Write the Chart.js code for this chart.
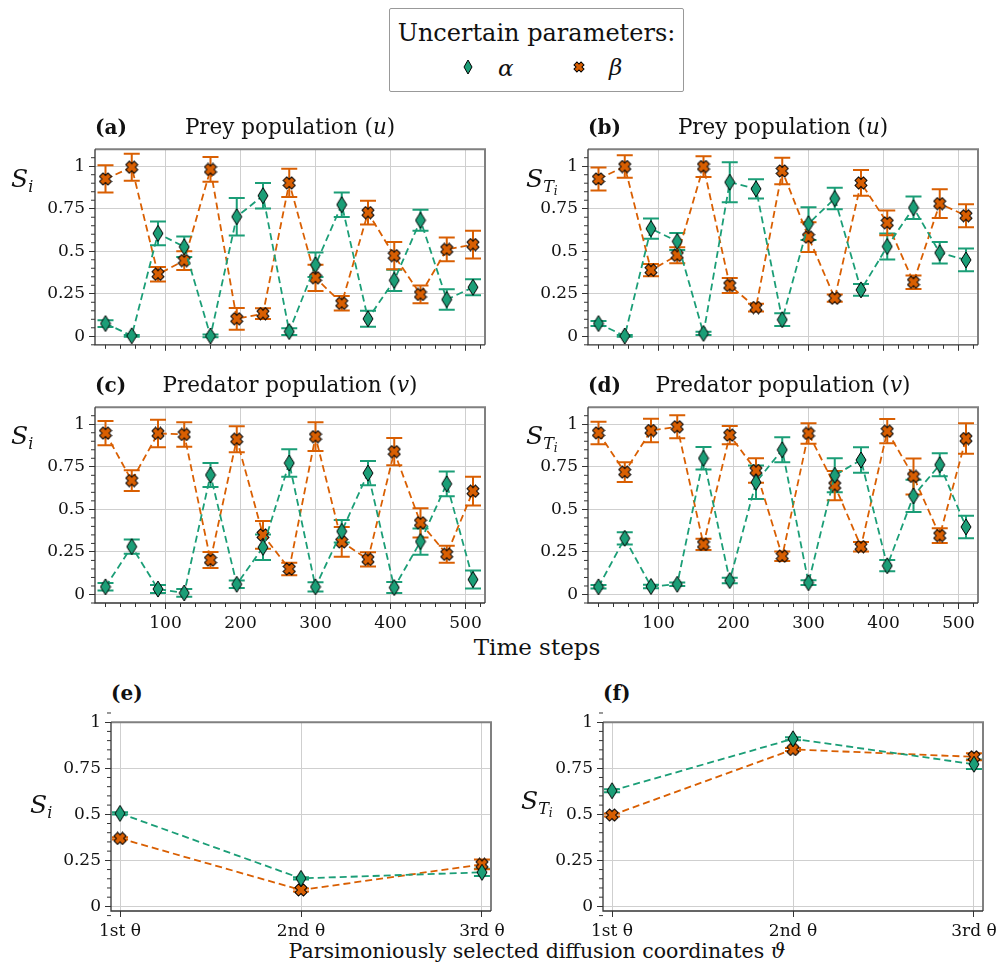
<!DOCTYPE html>
<html>
<head>
<meta charset="utf-8">
<script src="https://cdn.jsdelivr.net/npm/chart.js@4.4.1/dist/chart.umd.min.js"></script>
<style>
    body { margin: 0; background: #fff; }
    #fig { position: relative; width: 1004px; height: 963px; font-family: 'DejaVu Serif', serif; color: #111; overflow: hidden; }
    .panel { position: absolute; }
    .txt { position: absolute; white-space: nowrap; line-height: 1; }
    .tag { font-weight: bold; font-size: 20px; }
    .ttl { font-size: 21.5px; text-align: center; }
    .ylab { font-size: 25px; }
    .ylab sub { font-size: 16px; vertical-align: -5px; }
    .ylab sub sub { font-size: 12px; vertical-align: -3px; }
    #legend { position: absolute; left: 389px; top: 8px; width: 293px; height: 82px; border: 1.5px solid #999; border-radius: 2px; }
</style>
</head>
<body>
<div id="fig">
    <div id="legend">
        <div class="txt" style="left:0;width:293px;top:12px;font-size:24px;text-align:center;">Uncertain parameters:</div>
        <canvas id="legA" width="12" height="18" style="position:absolute;left:72px;top:49px;"></canvas>
        <div class="txt" style="left:108px;top:48px;font-size:23px;font-style:italic;">α</div>
        <canvas id="legB" width="14" height="14" style="position:absolute;left:182px;top:51px;"></canvas>
        <div class="txt" style="left:219px;top:47px;font-size:23px;font-style:italic;">β</div>
    </div>

    <div class="txt" style="left:0;width:1074px;top:636px;font-size:23px;text-align:center;">Time steps</div>
    <div class="txt" style="left:0;width:1074px;top:941px;font-size:20.5px;text-align:center;">Parsimoniously selected diffusion coordinates <i>ϑ</i></div>
</div>

<script>
// --- DATA ---
const timeSteps = [20, 55, 90, 125, 160, 195, 230, 265, 300, 335, 370, 405, 440, 475, 510];
const timeTicks = [100, 200, 300, 400, 500];
const sensTicks = [0, 0.25, 0.5, 0.75, 1];
const coordIdx = [0, 1, 2];
const coordLabels = ['1st θ', '2nd θ', '3rd θ'];

// (a) first-order, prey
const alphaSiPrey    = [0.075, 0.003, 0.605, 0.526, 0.002, 0.703, 0.827, 0.028, 0.42, 0.774, 0.103, 0.329, 0.682, 0.216, 0.288];
const alphaSiPreyErr = [0.02, 0.005, 0.07, 0.06, 0.008, 0.11, 0.075, 0.02, 0.072, 0.072, 0.047, 0.062, 0.062, 0.06, 0.047];
const betaSiPrey     = [0.925, 0.994, 0.365, 0.445, 0.981, 0.103, 0.133, 0.902, 0.344, 0.194, 0.727, 0.474, 0.246, 0.511, 0.539];
const betaSiPreyErr  = [0.08, 0.079, 0.043, 0.055, 0.073, 0.064, 0.032, 0.083, 0.077, 0.043, 0.07, 0.08, 0.052, 0.07, 0.082];

// (b) total-order, prey
const alphaStPrey    = [0.075, 0.002, 0.633, 0.558, 0.017, 0.906, 0.867, 0.098, 0.662, 0.81, 0.273, 0.528, 0.756, 0.491, 0.449];
const alphaStPreyErr = [0.015, 0.005, 0.06, 0.05, 0.01, 0.118, 0.057, 0.038, 0.096, 0.063, 0.035, 0.077, 0.066, 0.063, 0.067];
const betaStPrey     = [0.925, 0.998, 0.389, 0.476, 0.998, 0.299, 0.169, 0.972, 0.583, 0.224, 0.902, 0.667, 0.318, 0.78, 0.709];
const betaStPreyErr  = [0.068, 0.066, 0.036, 0.047, 0.061, 0.044, 0.023, 0.078, 0.088, 0.021, 0.076, 0.073, 0.04, 0.085, 0.068];

// (c) first-order, predator
const alphaSiPred    = [0.045, 0.281, 0.032, 0.009, 0.702, 0.06, 0.277, 0.772, 0.045, 0.371, 0.713, 0.041, 0.311, 0.65, 0.088];
const alphaSiPredErr = [0.022, 0.042, 0.023, 0.023, 0.07, 0.022, 0.075, 0.081, 0.027, 0.066, 0.071, 0.032, 0.077, 0.073, 0.053];
const betaSiPred     = [0.948, 0.669, 0.946, 0.94, 0.202, 0.912, 0.35, 0.15, 0.927, 0.309, 0.206, 0.839, 0.421, 0.236, 0.607];
const betaSiPredErr  = [0.071, 0.061, 0.081, 0.072, 0.047, 0.076, 0.082, 0.037, 0.084, 0.087, 0.042, 0.08, 0.086, 0.05, 0.085];

// (d) total-order, predator
const alphaStPred    = [0.045, 0.33, 0.047, 0.06, 0.8, 0.082, 0.659, 0.85, 0.069, 0.7, 0.79, 0.169, 0.579, 0.762, 0.397];
const alphaStPredErr = [0.01, 0.036, 0.01, 0.01, 0.066, 0.016, 0.098, 0.073, 0.014, 0.1, 0.075, 0.033, 0.095, 0.067, 0.066];
const betaStPred     = [0.949, 0.719, 0.963, 0.985, 0.294, 0.936, 0.728, 0.225, 0.946, 0.64, 0.281, 0.959, 0.693, 0.346, 0.916];
const betaStPredErr  = [0.066, 0.058, 0.069, 0.067, 0.033, 0.053, 0.072, 0.028, 0.06, 0.086, 0.028, 0.071, 0.106, 0.043, 0.09];

// (e) first-order, diffusion coordinates
const alphaSiCoord    = [0.505, 0.152, 0.185];
const alphaSiCoordErr = [0.006, 0.006, 0.02];
const betaSiCoord     = [0.369, 0.089, 0.228];
const betaSiCoordErr  = [0.006, 0.008, 0.027];

// (f) total-order, diffusion coordinates
const alphaStCoord    = [0.628, 0.91, 0.772];
const alphaStCoordErr = [0.008, 0.008, 0.026];
const betaStCoord     = [0.496, 0.852, 0.812];
const betaStCoordErr  = [0.008, 0.008, 0.019];

const GREEN = '#1b9e77';
const ORANGE = '#d95f02';

Chart.defaults.font.family = "'DejaVu Serif', serif";
Chart.defaults.font.size = 17;
Chart.defaults.color = '#111';

// --- MARKERS (matplotlib 'd' and 'X') ---
function diamondImg(w, h) {
    const c = document.createElement('canvas');
    c.width = w + 2; c.height = h + 2;
    const g = c.getContext('2d');
    g.beginPath();
    g.moveTo(c.width / 2, 1);
    g.lineTo(c.width - 1, c.height / 2);
    g.lineTo(c.width / 2, c.height - 1);
    g.lineTo(1, c.height / 2);
    g.closePath();
    g.fillStyle = GREEN; g.fill();
    g.strokeStyle = '#000'; g.lineWidth = 1; g.stroke();
    return c;
}

function crossImg(s) {
    const c = document.createElement('canvas');
    c.width = s + 2; c.height = s + 2;
    const g = c.getContext('2d');
    const r = (s / Math.SQRT2) / 1.42, t = r * 0.42;
    const pts = [[t, r], [t, t], [r, t], [r, -t], [t, -t], [t, -r], [-t, -r], [-t, -t], [-r, -t], [-r, t], [-t, t], [-t, r]];
    g.translate(c.width / 2, c.height / 2);
    g.rotate(Math.PI / 4);
    g.beginPath();
    pts.forEach((p, i) => i ? g.lineTo(p[0], p[1]) : g.moveTo(p[0], p[1]));
    g.closePath();
    g.fillStyle = ORANGE; g.fill();
    g.strokeStyle = '#000'; g.lineWidth = 1; g.stroke();
    return c;
}

const diamond = diamondImg(10, 16);
const cross = crossImg(12);

// legend markers
document.getElementById('legA').getContext('2d').drawImage(diamondImg(8, 14), 1, 1);
document.getElementById('legB').getContext('2d').drawImage(crossImg(10), 1, 1);

// --- PLUGINS ---
const errorBars = {
    id: 'errorBars',
    beforeDatasetsDraw(chart) {
        const ctx = chart.ctx;
        const yScale = chart.scales.y;
        chart.data.datasets.forEach((ds, di) => {
            const meta = chart.getDatasetMeta(di);
            ctx.save();
            ctx.strokeStyle = ds.borderColor;
            ctx.lineWidth = 2;
            meta.data.forEach((pt, i) => {
                const v = ds.data[i].y, e = ds.errors[i];
                const y1 = yScale.getPixelForValue(v - e);
                const y2 = yScale.getPixelForValue(v + e);
                ctx.beginPath();
                ctx.moveTo(pt.x, y1); ctx.lineTo(pt.x, y2);
                ctx.moveTo(pt.x - 8, y1); ctx.lineTo(pt.x + 8, y1);
                ctx.moveTo(pt.x - 8, y2); ctx.lineTo(pt.x + 8, y2);
                ctx.stroke();
            });
            ctx.restore();
        });
    }
};

// spines + minor ticks
const frame = {
    id: 'frame',
    afterDraw(chart, args, opts) {
        const { ctx, chartArea: a, scales } = chart;
        ctx.save();
        ctx.strokeStyle = '#808080'; ctx.lineWidth = 2;
        ctx.beginPath();
        ctx.moveTo(a.left, a.top); ctx.lineTo(a.right, a.top); ctx.lineTo(a.right, a.bottom);
        ctx.stroke();
        ctx.strokeStyle = '#333'; ctx.lineWidth = 1.3;
        ctx.beginPath();
        ctx.moveTo(a.left, a.top); ctx.lineTo(a.left, a.bottom); ctx.lineTo(a.right, a.bottom);
        ctx.stroke();
        ctx.lineWidth = 1;
        ctx.beginPath();
        (opts.xMinor || []).forEach(v => {
            const px = scales.x.getPixelForValue(v);
            ctx.moveTo(px, a.bottom); ctx.lineTo(px, a.bottom + 4);
        });
        (opts.yMinor || []).forEach(v => {
            const py = scales.y.getPixelForValue(v);
            ctx.moveTo(a.left, py); ctx.lineTo(a.left - 4, py);
        });
        ctx.stroke();
        ctx.restore();
    }
};

const yMinor = [];
for (let v = -0.05; v <= 1.1; v += 0.05) {
    const r = Math.round(v * 100) / 100;
    if (Math.round(r * 100) % 25 !== 0) yMinor.push(r);
}
const xMinor = [];
for (let v = 20; v <= 520; v += 20) if (v % 100 !== 0) xMinor.push(v);

// --- PANELS ---
const YW = 80, PT = 6, PR = 26;

function makePanel(p) {
    const fig = document.getElementById('fig');
    const wrap = document.createElement('div');
    wrap.className = 'panel';
    wrap.style.left = (p.left - YW) + 'px';
    wrap.style.top = (p.top - PT) + 'px';
    const canvas = document.createElement('canvas');
    canvas.width = YW + p.w + PR;
    canvas.height = PT + p.h + p.xh;
    wrap.appendChild(canvas);
    fig.appendChild(wrap);

    const series = [
        { label: 'α', vals: p.alpha, errs: p.alphaErr, color: GREEN, img: diamond },
        { label: 'β', vals: p.beta, errs: p.betaErr, color: ORANGE, img: cross }
    ];

    new Chart(canvas, {
        type: 'line',
        data: {
            datasets: series.map(s => ({
                label: s.label,
                data: p.xs.map((x, i) => ({ x: x, y: s.vals[i] })),
                errors: s.errs,
                borderColor: s.color,
                borderWidth: 1.8,
                borderDash: [7, 4],
                pointStyle: s.img,
                pointRadius: 7,
                fill: false,
                tension: 0
            }))
        },
        options: {
            responsive: false,
            animation: false,
            layout: { padding: { top: PT, right: PR, left: 0, bottom: 0 } },
            plugins: {
                legend: { display: false },
                tooltip: { enabled: false },
                frame: { xMinor: p.xMinor, yMinor: yMinor }
            },
            scales: {
                x: {
                    type: 'linear',
                    min: p.xMin, max: p.xMax,
                    afterBuildTicks: s => { s.ticks = p.xTicks.map(v => ({ value: v })); },
                    afterFit: s => { s.height = p.xh; },
                    ticks: {
                        display: p.xLabels,
                        padding: 4,
                        maxRotation: 0,
                        callback: p.xFmt
                    },
                    grid: { color: '#cfcfcf', tickColor: '#333', tickLength: 6 },
                    border: { display: false }
                },
                y: {
                    min: p.yMin, max: p.yMax,
                    afterBuildTicks: s => { s.ticks = sensTicks.map(v => ({ value: v })); },
                    afterFit: s => { s.width = YW; },
                    ticks: { padding: 4, callback: v => String(v) },
                    grid: { color: '#cfcfcf', tickColor: '#333', tickLength: 6 },
                    border: { display: false }
                }
            }
        },
        plugins: [errorBars, frame]
    });

    // panel tag and title as real text
    const tag = document.createElement('div');
    tag.className = 'txt tag';
    tag.style.left = p.left + 'px';
    tag.style.top = (p.titleY - 10) + 'px';
    tag.textContent = p.tag;
    fig.appendChild(tag);
    if (p.title) {
        const t = document.createElement('div');
        t.className = 'txt ttl';
        t.style.left = p.left + 'px';
        t.style.width = p.w + 'px';
        t.style.top = (p.titleY - 11) + 'px';
        t.innerHTML = p.title;
        fig.appendChild(t);
    }
    const yl = document.createElement('div');
    yl.className = 'txt ylab';
    yl.style.left = p.ylabX + 'px';
    yl.style.top = p.ylabY + 'px';
    yl.innerHTML = p.ylab;
    fig.appendChild(yl);
}

const SI = '<i>S</i><sub><i>i</i></sub>';
const ST = '<i>S</i><sub><i>T</i><sub><i>i</i></sub></sub>';
const timeBase = { xs: timeSteps, xMin: 6, xMax: 526, xTicks: timeTicks, xMinor: xMinor, yMin: -0.05, yMax: 1.1, w: 390, h: 204, xFmt: v => String(v) };
const coordBase = { xs: coordIdx, xMin: -0.05, xMax: 2.05, xTicks: coordIdx, xMinor: [], yMin: -0.025, yMax: 1, w: 380, h: 197, xh: 36, xLabels: true, xFmt: v => coordLabels[v] };

makePanel(Object.assign({}, timeBase, { left: 95, top: 141, xh: 14, xLabels: false, tag: '(a)', titleY: 127, title: 'Prey population (<i>u</i>)', ylab: SI, ylabX: 11, ylabY: 166,
    alpha: alphaSiPrey, alphaErr: alphaSiPreyErr, beta: betaSiPrey, betaErr: betaSiPreyErr }));
makePanel(Object.assign({}, timeBase, { left: 588, top: 141, xh: 14, xLabels: false, tag: '(b)', titleY: 127, title: 'Prey population (<i>u</i>)', ylab: ST, ylabX: 526, ylabY: 166,
    alpha: alphaStPrey, alphaErr: alphaStPreyErr, beta: betaStPrey, betaErr: betaStPreyErr }));
makePanel(Object.assign({}, timeBase, { left: 95, top: 399, xh: 36, xLabels: true, tag: '(c)', titleY: 385, title: 'Predator population (<i>v</i>)', ylab: SI, ylabX: 11, ylabY: 423,
    alpha: alphaSiPred, alphaErr: alphaSiPredErr, beta: betaSiPred, betaErr: betaSiPredErr }));
makePanel(Object.assign({}, timeBase, { left: 588, top: 399, xh: 36, xLabels: true, tag: '(d)', titleY: 385, title: 'Predator population (<i>v</i>)', ylab: ST, ylabX: 526, ylabY: 423,
    alpha: alphaStPred, alphaErr: alphaStPredErr, beta: betaStPred, betaErr: betaStPredErr }));
makePanel(Object.assign({}, coordBase, { left: 111, top: 714, tag: '(e)', titleY: 693, title: '', ylab: SI, ylabX: 30, ylabY: 792,
    alpha: alphaSiCoord, alphaErr: alphaSiCoordErr, beta: betaSiCoord, betaErr: betaSiCoordErr }));
makePanel(Object.assign({}, coordBase, { left: 603, top: 714, tag: '(f)', titleY: 693, title: '', ylab: ST, ylabX: 521, ylabY: 788,
    alpha: alphaStCoord, alphaErr: alphaStCoordErr, beta: betaStCoord, betaErr: betaStCoordErr }));
</script>
</body>
</html>
